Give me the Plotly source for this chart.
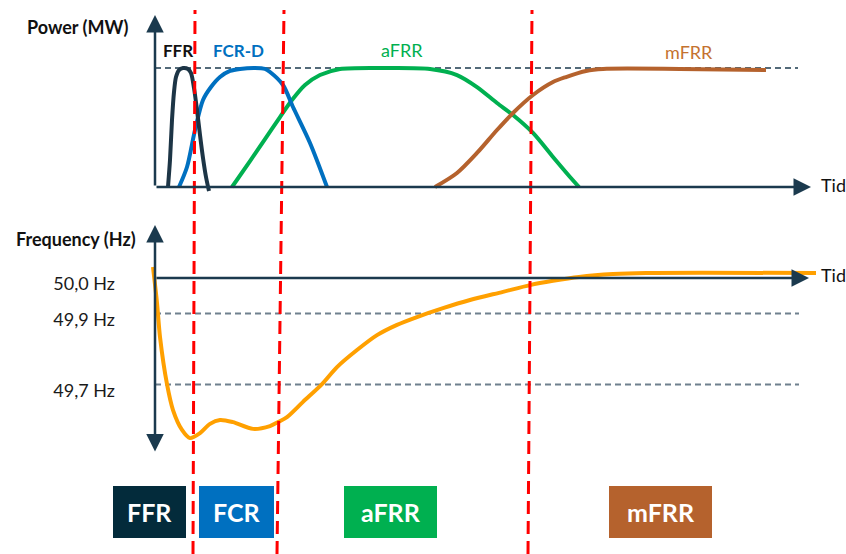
import plotly.graph_objects as go

# ---------------- data (schematic time units, power in p.u., frequency in Hz) ----------------
ffr_t = [1.3, 1.5, 1.7, 1.9, 2.1, 2.4, 2.8, 3.3, 3.6, 3.9, 4.2, 4.5, 4.8, 5.1, 5.4]
ffr_p = [0.0, 0.227, 0.563, 0.798, 0.924, 0.983, 1.0, 0.992, 0.958, 0.832, 0.647, 0.437, 0.244, 0.084, -0.034]

fcr_t = [2.4, 3.2, 4.0, 4.8, 5.6, 6.5, 7.5, 8.5, 10.0, 11.0, 11.5, 12.8, 13.8, 15.5, 17.2]
fcr_p = [0.0, 0.168, 0.479, 0.731, 0.840, 0.924, 0.975, 0.992, 1.0, 0.992, 0.966, 0.857, 0.672, 0.370, 0.0]

afrr_t = [7.7, 9.5, 11.0, 12.5, 13.7, 15.0, 16.5, 18.5, 23.5, 27.5, 30.2, 32.2, 34.2, 35.8, 37.8, 39.8, 41.5, 42.4]
afrr_p = [0.0, 0.218, 0.403, 0.588, 0.731, 0.857, 0.941, 0.992, 1.0, 0.992, 0.941, 0.840, 0.706, 0.605, 0.454, 0.252, 0.084, 0.0]

mfrr_t = [28.0, 30.2, 32.2, 34.2, 35.8, 37.8, 39.8, 41.1, 43.1, 44.8, 52.5, 61.1]
mfrr_p = [0.0, 0.118, 0.286, 0.479, 0.622, 0.773, 0.882, 0.924, 0.975, 0.992, 0.992, 0.983]

freq_t = [-0.2, 0.2, 0.5, 1.2, 1.8, 2.7, 3.5, 4.5, 5.5, 6.5, 7.8, 9.8, 11.5, 12.3, 13.2, 14.8,
          16.7, 18.2, 20.2, 22.2, 24.2, 26.2, 28.8, 31.5, 34.8, 37.5, 39.8, 42.4, 45.8, 49.1, 66.1]
freq_hz = [50.031, 49.930, 49.834, 49.701, 49.628, 49.572, 49.549, 49.563, 49.589, 49.600, 49.594,
           49.575, 49.583, 49.594, 49.608, 49.651, 49.701, 49.749, 49.797, 49.839, 49.868, 49.890,
           49.915, 49.938, 49.961, 49.980, 49.992, 50.003, 50.011, 50.014, 50.014]

phase_bounds = [3.8, 12.2, 37.3]          # time of the red phase boundaries (at the bottom)
freq_ticks = [50.0, 49.9, 49.7]
freq_ticktext = ["50,0 Hz", "49,9 Hz", "49,7 Hz"]
box_labels = ["FFR", "FCR", "aFRR", "mFRR"]
curve_labels = ["FFR", "FCR-D", "aFRR", "mFRR"]

# ---------------- styling / layout helpers ----------------
NAVY = "#1b3a4e"
C_FFR = "#1d3546"
C_FFR_BOX = "#032b3b"
C_FCR = "#0070c0"
C_AFRR = "#00b050"
C_MFRR = "#b5622d"
C_MFRR_TXT = "#c4722f"
C_ORANGE = "#ffa000"
C_GRAY = "#6f808e"
FONT = "Lato"

bound_lean = [0.2, 0.7, 0.4]
box_centers = [-0.55, 8.15, 23.55, 50.55]
box_widths = [7.3, 7.5, 9.3, 10.3]
box_colors = [C_FFR_BOX, C_FCR, C_AFRR, C_MFRR]

fig = go.Figure()

def curve(t, v, color, yaxis="y", width=4):
    fig.add_trace(go.Scatter(x=t, y=v, mode="lines", yaxis=yaxis,
                             line=dict(color=color, width=width, shape="spline", smoothing=0.8),
                             hoverinfo="skip", showlegend=False))

curve(afrr_t, afrr_p, C_AFRR)
curve(mfrr_t, mfrr_p, C_MFRR)
curve(fcr_t, fcr_p, C_FCR)
curve(ffr_t, ffr_p, C_FFR)
curve(freq_t, freq_hz, C_ORANGE, yaxis="y2", width=4)

shapes = []
# reference dashed lines
shapes.append(dict(type="line", xref="x", yref="y", x0=0, x1=64.3, y0=1.0, y1=1.0,
                   line=dict(color=NAVY, width=1.5, dash="6px,4px"), layer="below"))
for f in freq_ticks[1:]:
    shapes.append(dict(type="line", xref="x", yref="y2", x0=0, x1=64.4, y0=f, y1=f,
                       line=dict(color=C_GRAY, width=1.8, dash="6px,4px"), layer="below"))
# bottom boxes
for c, w, col in zip(box_centers, box_widths, box_colors):
    shapes.append(dict(type="rect", xref="x", yref="paper", x0=c - w / 2, x1=c + w / 2,
                       y0=0.0289, y1=0.1227, fillcolor=col, line=dict(width=0), layer="below"))
# red phase boundaries
for b, lean in zip(phase_bounds, bound_lean):
    shapes.append(dict(type="line", xref="x", yref="paper", x0=b, x1=b + lean, y0=0.0, y1=0.982,
                       line=dict(color="#ff0000", width=3, dash="13px,7px"), layer="above"))

ann = []

def arrow(x, y, ax, ay, yref, both=False):
    d = dict(x=x, y=y, ax=ax, ay=ay, xref="x", yref=yref, axref="x", ayref=yref, text="",
             showarrow=True, arrowhead=2, arrowsize=1.4, arrowwidth=2.5, arrowcolor=NAVY,
             standoff=0, startstandoff=0)
    if both:
        d.update(arrowside="end+start", startarrowhead=2, startarrowsize=1.4)
    return d

ann.append(arrow(0, 1.445, 0, 0, "y"))
ann.append(arrow(65.6, 0, 0, 0, "y"))
ann.append(arrow(0, 50.149, 0, 49.507, "y2", both=True))
ann.append(arrow(65.4, 50.0, 0, 50.0, "y2"))

def label(text, x, y, yref, color="#111111", size=18, bold=False, xanchor="center"):
    ann.append(dict(text=f"<b>{text}</b>" if bold else text, x=x, y=y, xref="x", yref=yref,
                    showarrow=False, xanchor=xanchor, yanchor="middle",
                    font=dict(family=FONT, size=size, color=color)))

label("Power (MW)", -2.5, 1.345, "y", size=18, bold=True, xanchor="right")
label("Frequency (Hz)", -1.7, 50.109, "y2", size=18, bold=True, xanchor="right")
label("Tid", 66.4, 0.017, "y", size=18, xanchor="left")
label("Tid", 66.4, 50.008, "y2", size=18, xanchor="left")
label(curve_labels[0], 2.3, 1.143, "y", color="#111111", size=17, bold=True)
label(curve_labels[1], 8.3, 1.143, "y", color=C_FCR, size=17, bold=True)
label(curve_labels[2], 24.7, 1.151, "y", color=C_AFRR, size=18)
label(curve_labels[3], 53.4, 1.134, "y", color=C_MFRR_TXT, size=18)

for c, txt in zip(box_centers, box_labels):
    ann.append(dict(text=f"<b>{txt}</b>", x=c, y=0.0758, xref="x", yref="paper", showarrow=False,
                    xanchor="center", yanchor="middle",
                    font=dict(family=FONT, size=25, color="white")))

fig.update_layout(
    width=846, height=554, margin=dict(l=0, r=0, t=0, b=0),
    paper_bgcolor="white", plot_bgcolor="white", showlegend=False,
    xaxis=dict(range=[-15.5, 69.1], visible=False),
    yaxis=dict(range=[-3.084, 1.5714], visible=False),
    yaxis2=dict(range=[49.2225, 50.7831], overlaying="y", anchor="free", position=155 / 846,
                side="left", showgrid=False, zeroline=False, showline=False, ticks="",
                tickvals=freq_ticks, ticktext=freq_ticktext, ticklabelstandoff=40,
                ticklabelshift=6,
                tickfont=dict(family=FONT, size=18, color="#1a1a1a")),
    shapes=shapes, annotations=ann,
)

fig.write_html("out.html", config={"displayModeBar": False},
               post_script="document.body.style.margin='0';document.body.style.overflow='hidden';")
